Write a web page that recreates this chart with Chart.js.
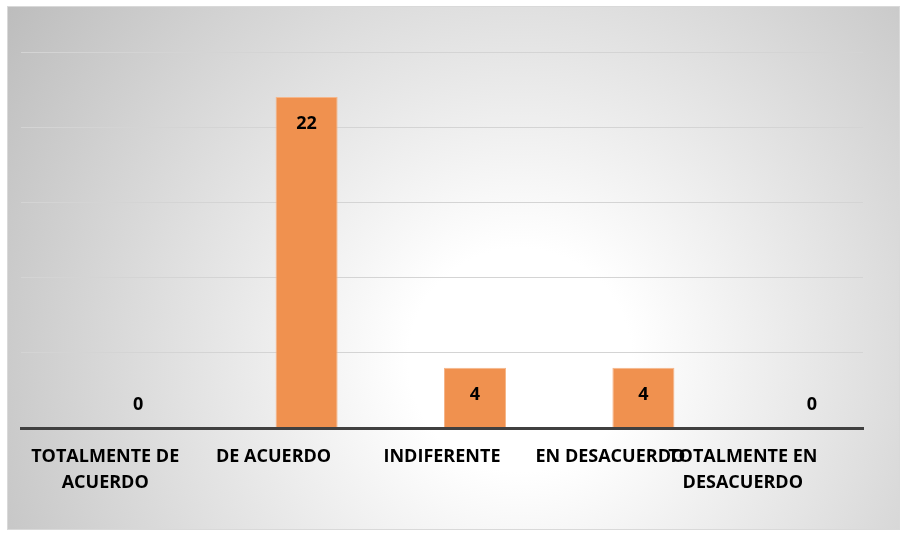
<!DOCTYPE html>
<html>
<head>
<meta charset="utf-8">
<script src="https://cdn.jsdelivr.net/npm/chart.js@4"></script>
<style>
  html, body { margin: 0; padding: 0; background: #fff; }
  #wrap { width: 903px; height: 533px; }
</style>
</head>
<body>
<div id="wrap"><canvas id="myChart" width="903" height="533"></canvas></div>
<script>
var categories = [
  ["TOTALMENTE DE", "ACUERDO"],
  ["DE ACUERDO"],
  ["INDIFERENTE"],
  ["EN DESACUERDO"],
  ["TOTALMENTE EN", "DESACUERDO"],
];
var emptySeries = [null, null, null, null, null];
var values = [0, 22, 4, 4, 0];
var yTicks = [0, 5, 10, 15, 20, 25];

var barColor = "#F0914F";
var labelFont = "bold 18px 'Open Sans', 'Liberation Sans', sans-serif";

// background with radial gradient and thin border
var bgPlugin = {
  id: "bg",
  beforeDraw: function (chart) {
    var ctx = chart.ctx;
    ctx.save();
    ctx.fillStyle = "#ffffff";
    ctx.fillRect(0, 0, chart.width, chart.height);
    var g = ctx.createRadialGradient(520, 360, 0, 520, 360, 620);
    g.addColorStop(0, "#ffffff");
    g.addColorStop(0.18, "#ffffff");
    g.addColorStop(1, "#bdbdbd");
    ctx.fillStyle = g;
    ctx.fillRect(7, 6, 893, 524);
    ctx.strokeStyle = "#d9d9d9";
    ctx.lineWidth = 1;
    ctx.strokeRect(7.5, 6.5, 892, 523);
    ctx.restore();
  },
};

// value labels and wrapped category labels
var textPlugin = {
  id: "texts",
  afterDraw: function (chart) {
    var ctx = chart.ctx;
    var meta = chart.getDatasetMeta(1);
    var xs = chart.scales.x;
    var base = chart.scales.y.getPixelForValue(0);
    ctx.save();
    ctx.font = labelFont;
    ctx.fillStyle = "#000";
    ctx.textAlign = "center";
    ctx.textBaseline = "middle";
    meta.data.forEach(function (bar, i) {
      var v = values[i];
      var y = v === 0 ? base - 23 : bar.y + 27;
      ctx.fillText(String(v), bar.x, y);
    });
    categories.forEach(function (lines, i) {
      var x = xs.getPixelForValue(i);
      if (i === categories.length - 1) x -= 36;
      lines.forEach(function (t, j) {
        ctx.fillText(t, x, base + 29 + j * 26);
      });
    });
    ctx.restore();
  },
};

new Chart("myChart", {
  type: "bar",
  data: {
    labels: categories.map(function (c) { return c.join(" "); }),
    datasets: [
      {
        label: "Serie 0",
        data: emptySeries,
        backgroundColor: "rgba(0,0,0,0)",
        categoryPercentage: 0.784,
        barPercentage: 0.94,
      },
      {
        label: "Serie 1",
        data: values,
        backgroundColor: barColor,
        borderColor: "#F5B68A",
        borderWidth: 1,
        categoryPercentage: 0.784,
        barPercentage: 0.94,
      },
    ],
  },
  options: {
    responsive: false,
    animation: false,
    layout: { padding: { left: 21, right: 40, top: 52, bottom: 97 } },
    plugins: {
      legend: { display: false },
      tooltip: { enabled: false },
      title: { display: false },
    },
    scales: {
      x: {
        ticks: { display: false },
        grid: { display: false },
        border: { color: "#404040", width: 3, z: 1 },
      },
      y: {
        min: yTicks[0],
        max: yTicks[yTicks.length - 1],
        ticks: { display: false, stepSize: 5 },
        grid: { color: "#d4d4d4", lineWidth: 1, drawTicks: false },
        border: { display: false },
      },
    },
  },
  plugins: [bgPlugin, textPlugin],
});
</script>
</body>
</html>
